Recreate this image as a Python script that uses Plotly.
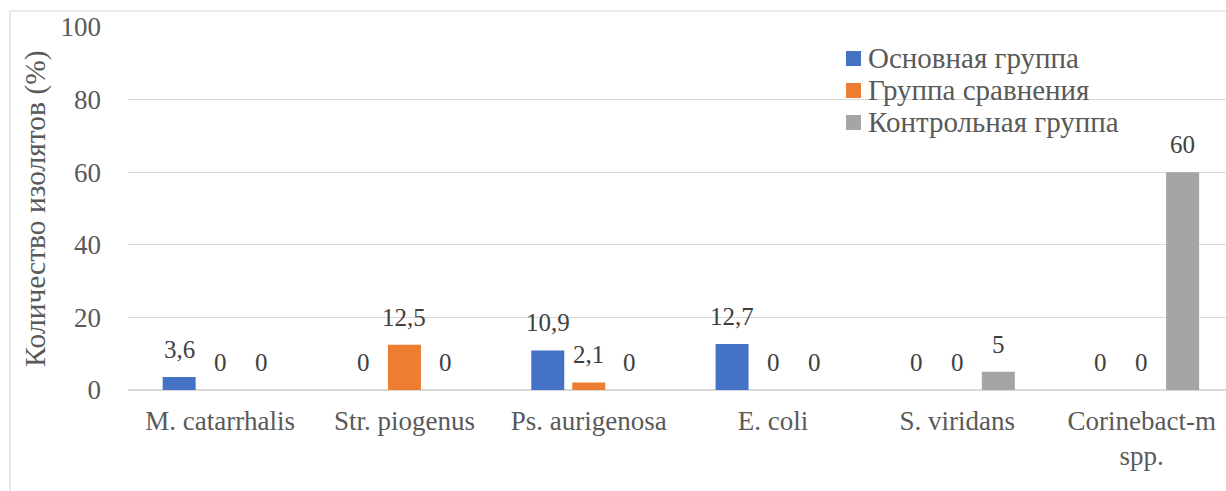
import plotly.graph_objects as go

# Bacterial isolates by group, percent
categories = ["M. catarrhalis", "Str. piogenus", "Ps. aurigenosa", "E. coli",
              "S. viridans", "Corinebact-m<br>spp."]
series_names = ["Основная группа", "Группа сравнения", "Контрольная группа"]
main_group = [3.6, 0, 10.9, 12.7, 0, 0]
comparison_group = [0, 12.5, 2.1, 0, 0, 0]
control_group = [0, 0, 0, 0, 5, 60]
series_values = [main_group, comparison_group, control_group]
series_colors = ["#4472C4", "#ED7D31", "#A5A5A5"]
y_ticks = [0, 20, 40, 60, 80, 100]

FONT = "Times New Roman"
TEXT = "#595959"
GRID = "#D9D9D9"

W, H = 1226, 491
ML, MT, MB, MR = 128, 27, 101, 0
plot_w = W - ML - MR
plot_h = H - MT - MB
cat_px = 184.3  # width of one category band in pixels


def px_x(p):
    return (p - ML) / plot_w


def px_y(p):
    return (H - MB - p) / plot_h


fig = go.Figure()
for name, vals, col in zip(series_names, series_values, series_colors):
    fig.add_trace(go.Bar(name=name, x=categories, y=vals, marker_color=col,
                         marker_line_width=0, showlegend=False))

# value labels above each bar
slot_px = cat_px * (1 - 0.333) / 3
for i, vals in enumerate(series_values):
    for cat, v in zip(categories, vals):
        label = f"{v:g}".replace(".", ",")
        fig.add_annotation(x=cat, y=v, text=label, showarrow=False,
                           xshift=(i - 1) * slot_px, yanchor="bottom", yshift=12,
                           font=dict(family=FONT, size=25, color="#404040"))

# legend: colour squares with series names
for k, (name, col) in enumerate(zip(series_names, series_colors)):
    cy = 58 + 32 * k
    fig.add_shape(type="rect", xref="paper", yref="paper",
                  x0=px_x(846), x1=px_x(861), y0=px_y(cy + 8), y1=px_y(cy - 7),
                  line=dict(width=0), fillcolor=col)
    fig.add_annotation(xref="paper", yref="paper", x=px_x(866), y=px_y(cy),
                       xanchor="left", yanchor="middle", showarrow=False,
                       text=name, font=dict(family=FONT, size=29, color=TEXT))

# outer chart frame
fig.add_shape(type="rect", xref="paper", yref="paper",
              x0=px_x(10), x1=px_x(1300), y0=px_y(11), y1=px_y(560),
              line=dict(color=GRID, width=1.2), fillcolor="rgba(0,0,0,0)",
              layer="below")

fig.update_layout(
    width=W, height=H,
    margin=dict(l=ML, r=MR, t=MT, b=MB, pad=0),
    paper_bgcolor="white", plot_bgcolor="white",
    barmode="group", bargap=0.333, bargroupgap=0.195,
    separators=", ",
    font=dict(family=FONT, size=25, color=TEXT),
    showlegend=False,
    xaxis=dict(range=[-0.5, -0.5 + plot_w / cat_px], showgrid=False,
               showline=False, zeroline=False, ticks="", ticklabelstandoff=12,
               tickfont=dict(family=FONT, size=27, color=TEXT), fixedrange=True),
    yaxis=dict(range=[0, 100], tickvals=y_ticks, showgrid=True, gridcolor=GRID,
               gridwidth=1.2, zeroline=True, zerolinecolor=GRID, zerolinewidth=1.5,
               showline=False, ticks="", ticklabelstandoff=26,
               tickfont=dict(family=FONT, size=27, color=TEXT),
               title=dict(text="Количество изолятов (%)", standoff=6,
                          font=dict(family=FONT, size=29.5, color=TEXT)),
               fixedrange=True),
)

fig.write_html("out.html")
